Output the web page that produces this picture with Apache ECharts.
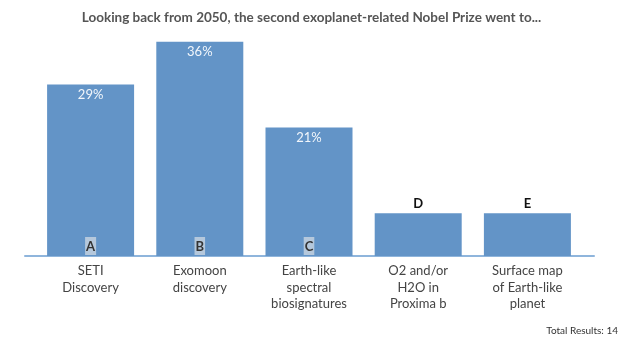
<!DOCTYPE html>
<html><head><meta charset="utf-8">
<script src="https://cdn.jsdelivr.net/npm/echarts@6/dist/echarts.min.js"></script>
<style>html,body{margin:0;padding:0;background:#fff}#c{width:623px;height:337px}</style>
</head><body><div id="c"></div>
<script>
const categories = ['SETI\nDiscovery', 'Exomoon\ndiscovery', 'Earth-like\nspectral\nbiosignatures', 'O2 and/or\nH2O in\nProxima b', 'Surface map\nof Earth-like\nplanet'];
const letters = ['A', 'B', 'C', 'D', 'E'];
const votes = [4, 5, 3, 1, 1];
const totalResults = 14;
const showPercent = [true, true, true, false, false];

const pct = votes.map(v => v / totalResults * 100);
const FONT = 'Lato, "Open Sans", sans-serif';
const chart = echarts.init(document.getElementById('c'));
chart.setOption({
  animation: false,
  title: [
    { text: 'Looking back from 2050, the second exoplanet-related Nobel Prize went to...', left: 'center', top: 6,
      textStyle: { fontFamily: FONT, fontSize: 13.5, fontWeight: 'bold', color: '#555' } },
    { text: 'Total Results: ' + totalResults, right: 0, top: 321,
      textStyle: { fontFamily: FONT, fontSize: 10, fontWeight: 'normal', color: '#333' } }
  ],
  grid: [
    { left: 36, right: 41, top: 40, bottom: 81 },
    { left: 25, right: 29, top: 40, bottom: 81 }
  ],
  xAxis: [
    { type: 'category', gridIndex: 0, data: categories, axisLine: { show: false }, axisTick: { show: false },
      axisLabel: { interval: 0, margin: 7, fontFamily: FONT, fontSize: 13, color: '#444', lineHeight: 16.5 } },
    { type: 'category', gridIndex: 1, data: [''], axisLine: { show: true, lineStyle: { color: '#8fb5dc', width: 2 } },
      axisTick: { show: false }, axisLabel: { show: false } }
  ],
  yAxis: [
    { type: 'value', gridIndex: 0, min: 0, max: 36, show: false },
    { type: 'value', gridIndex: 1, min: 0, max: 36, show: false }
  ],
  series: [
    { type: 'bar', xAxisIndex: 0, yAxisIndex: 0, barWidth: 87,
      itemStyle: { color: '#6394c7' },
      data: pct.map((v, i) => ({ value: v,
        label: showPercent[i] ? { show: true, position: 'insideTop', distance: 4, formatter: Math.round(v) + '%',
          fontFamily: FONT, fontSize: 13, color: '#f2f6fb' } : { show: false } })) },
    { type: 'bar', xAxisIndex: 0, yAxisIndex: 0, barWidth: 87, barGap: '-100%',
      itemStyle: { color: 'transparent' }, silent: true,
      data: pct.map((v, i) => ({ value: v,
        label: showPercent[i]
          ? { show: true, position: 'insideBottom', distance: 1, formatter: letters[i], fontFamily: FONT, fontSize: 13,
              fontWeight: 'bold', color: '#333', backgroundColor: '#b5c8dc', padding: [3, 1, 2, 1] }
          : { show: true, position: 'top', distance: 3, formatter: letters[i], fontFamily: FONT, fontSize: 13,
              fontWeight: 'bold', color: '#111' } })) }
  ]
});
</script></body></html>
